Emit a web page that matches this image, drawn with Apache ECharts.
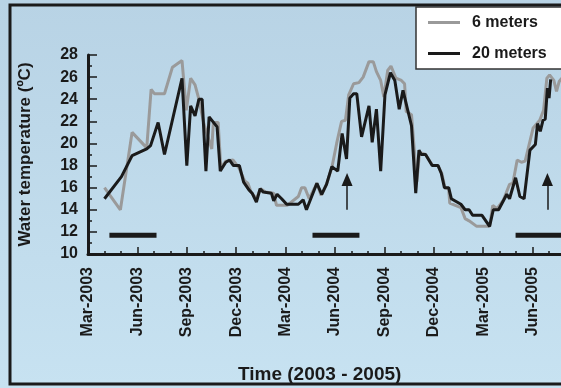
<!DOCTYPE html>
<html>
<head>
<meta charset="utf-8">
<script src="https://cdn.jsdelivr.net/npm/echarts@6/dist/echarts.min.js"></script>
<style>
html,body{margin:0;padding:0;overflow:hidden;background:#c0dbec;}
#chart{width:620px;height:388px;}
</style>
</head>
<body>
<div id="chart"></div>
<script>
// ---- data ----
const dates20 = ['2003-04-01','2003-05-02','2003-05-22','2003-06-18','2003-06-25','2003-07-09','2003-07-21','2003-08-23','2003-09-01','2003-09-08','2003-09-16','2003-09-23','2003-09-29','2003-10-06','2003-10-12','2003-10-27','2003-11-02','2003-11-12','2003-11-19','2003-11-26','2003-12-07','2003-12-15','2003-12-25','2003-12-31','2004-01-08','2004-01-15','2004-01-21','2004-02-05','2004-02-09','2004-02-15','2004-02-23','2004-03-03','2004-03-25','2004-04-03','2004-04-09','2004-04-28','2004-05-07','2004-05-16','2004-05-26','2004-06-06','2004-06-14','2004-06-22','2004-06-28','2004-07-05','2004-07-11','2004-07-20','2004-08-03','2004-08-09','2004-08-17','2004-08-25','2004-09-02','2004-09-12','2004-09-20','2004-09-28','2004-10-05','2004-10-21','2004-10-29','2004-11-04','2004-11-08','2004-11-16','2004-11-28','2004-12-09','2004-12-15','2004-12-21','2004-12-29','2005-01-03','2005-01-21','2005-01-29','2005-02-05','2005-02-11','2005-02-27','2005-03-13','2005-03-20','2005-03-30','2005-04-14','2005-04-19','2005-04-30','2005-05-08','2005-05-16','2005-05-27','2005-06-06','2005-06-10','2005-06-15','2005-06-20','2005-06-24','2005-06-28','2005-07-01','2005-07-04'];
const temp20 = [15.0,17.0,18.9,19.5,19.8,21.9,19.0,25.9,18.0,23.4,22.5,24.0,24.0,17.5,22.4,21.5,17.5,18.3,18.5,18.0,18.0,16.5,15.8,15.5,14.7,15.9,15.6,15.5,14.8,15.4,15.0,14.5,14.5,14.9,14.0,16.4,15.4,16.3,17.9,17.5,20.9,18.6,24.1,24.5,24.5,20.6,23.4,20.1,23.1,17.5,24.4,26.4,25.7,23.1,24.8,21.6,15.5,19.4,19.0,19.0,18.0,18.0,17.3,16.0,16.0,15.0,14.5,14.0,14.0,13.5,13.5,12.5,14.0,14.0,15.4,15.0,16.9,15.2,15.0,19.4,19.9,21.8,21.1,22.1,22.2,25.0,24.1,25.8];

const dates6 = ['2003-04-01','2003-04-30','2003-05-22','2003-06-18','2003-06-26','2003-07-02','2003-07-21','2003-08-05','2003-08-23','2003-08-31','2003-09-08','2003-09-16','2003-09-23','2003-10-02','2003-10-17','2003-10-20','2003-10-29','2003-11-03','2003-11-12','2003-11-25','2003-12-06','2003-12-17','2003-12-23','2003-12-29','2004-01-08','2004-01-16','2004-01-25','2004-02-09','2004-02-14','2004-03-04','2004-03-25','2004-03-31','2004-04-06','2004-04-14','2004-04-22','2004-04-28','2004-05-06','2004-05-16','2004-05-26','2004-06-04','2004-06-13','2004-06-20','2004-06-26','2004-07-05','2004-07-15','2004-07-23','2004-08-03','2004-08-11','2004-08-17','2004-08-25','2004-08-31','2004-09-07','2004-09-13','2004-09-22','2004-10-02','2004-10-08','2004-10-11','2004-10-21','2004-10-31','2004-11-05','2004-11-16','2004-11-29','2004-12-09','2004-12-16','2004-12-22','2004-12-29','2004-12-31','2005-01-21','2005-01-29','2005-02-05','2005-02-18','2005-03-13','2005-03-19','2005-03-27','2005-04-08','2005-04-19','2005-04-25','2005-05-03','2005-05-11','2005-05-18','2005-06-02','2005-06-14','2005-06-21','2005-06-27','2005-07-02','2005-07-10','2005-07-15','2005-07-20','2005-07-25'];
const temp6 = [16.0,14.0,21.0,19.6,24.9,24.5,24.5,26.9,27.5,23.0,25.9,25.3,24.0,21.8,19.5,21.9,21.9,17.8,18.4,18.5,17.8,16.6,16.4,15.6,15.0,15.9,15.6,15.5,14.4,14.4,15.2,16.0,16.0,15.0,15.8,16.4,15.3,16.3,17.8,20.0,22.0,22.1,24.4,25.4,25.5,26.0,27.4,27.4,26.5,25.7,24.2,26.6,27.0,25.9,25.7,25.4,22.9,22.6,16.5,19.2,19.0,18.0,18.0,17.3,16.0,15.9,14.6,14.2,13.2,13.0,12.5,12.5,14.4,14.1,14.9,16.3,16.4,18.5,18.3,18.4,21.4,22.1,23.0,25.9,26.2,25.7,24.7,25.6,25.9];

// horizontal period bars (start date, end date) at a fixed temperature level
const barStarts = ['2003-04-10','2004-04-20','2005-04-30'];
const barEnds   = ['2003-07-06','2004-07-16','2005-09-01'];
const barLevel = 11.7;

// arrows (date, from temperature, to temperature)
const arrowDates = ['2004-06-23','2005-06-28'];
const arrowFrom = 14.0;
const arrowTo = 16.75;

const seriesNames = ['6 meters','20 meters'];
const monthNames = ['Mar','Jun','Sep','Dec'];

// ---- helpers ----
function toMonthIndex(s){
  const [y,m,d] = s.split('-').map(Number);
  const dim = new Date(y, m, 0).getDate();
  return (y-2003)*12 + (m-3) + (d-1)/dim;
}
function pairs(ds, vs){ return ds.map((d,i)=>[toMonthIndex(d), vs[i]]); }

const FONT = '"Liberation Sans", Arial, Helvetica, sans-serif';
const INK = '#1a1a1a';
const GRAY = '#9a9a9a';

const chart = echarts.init(document.getElementById('chart'), null, {renderer:'canvas'});

const series = [
  {name: seriesNames[0], type:'line', data: pairs(dates6,temp6), symbol:'none', showSymbol:false,
   lineStyle:{color:GRAY, width:3}, itemStyle:{color:GRAY}, z:2},
  {name: seriesNames[1], type:'line', data: pairs(dates20,temp20), symbol:'none', showSymbol:false,
   lineStyle:{color:INK, width:3}, itemStyle:{color:INK}, z:3}
];
barStarts.forEach((s,i)=>{
  series.push({name:'period'+i, type:'line', symbol:'none', silent:true,
    data:[[toMonthIndex(s), barLevel],[toMonthIndex(barEnds[i]), barLevel]],
    lineStyle:{color:INK, width:5, cap:'butt'}, z:3});
});
series.push({name:'arrows', type:'line', data:[], silent:true,
  markLine:{silent:true, symbol:['none','triangle'], symbolSize:[11,13],
    label:{show:false},
    lineStyle:{color:INK, width:1.5, type:'solid'},
    data: arrowDates.map(d=>[{coord:[toMonthIndex(d), arrowFrom]},{coord:[toMonthIndex(d), arrowTo]}])
  }});

chart.setOption({
  animation:false,
  backgroundColor:{type:'linear', x:0, y:0, x2:0, y2:1,
    colorStops:[{offset:0,color:'#b8d3e5'},{offset:1,color:'#c7e2f1'}]},
  textStyle:{fontFamily:FONT},
  grid:{left:88, top:55, width:494, height:199, containLabel:false},
  legend:{
    data: seriesNames, orient:'vertical', left:416, top:7,
    icon:'rect',
    padding:[6,70,6,12], itemGap:12, itemWidth:32, itemHeight:3,
    backgroundColor:'#ffffff', borderColor:'#333333', borderWidth:1.5,
    textStyle:{fontFamily:FONT, fontWeight:'bold', fontSize:16, lineHeight:19, color:INK, padding:[0,0,0,7]}
  },
  title:{text:'Time (2003 - 2005)', left:238, top:365, padding:0,
    textStyle:{fontFamily:FONT, fontWeight:'bold', fontSize:19, color:INK}},
  xAxis:{
    type:'value', min:0, max:30, interval:3,
    axisLine:{lineStyle:{color:INK, width:3}},
    axisTick:{inside:true, length:7, lineStyle:{color:INK, width:1.5}},
    minorTick:{show:true, splitNumber:3, length:3, lineStyle:{color:INK, width:1.5}},
    splitLine:{show:false},
    axisLabel:{rotate:90, margin:13, fontFamily:FONT, fontWeight:'bold', fontSize:16, color:INK,
      formatter:(v)=>{ const q = Math.round(v/3); return monthNames[q%4] + '-' + (2003 + Math.floor((q*3+2)/12)); }}
  },
  yAxis:{
    type:'value', min:10, max:28, interval:2,
    name:'Water temperature (ºC)', nameLocation:'middle', nameGap:54, nameRotate:90,
    nameTextStyle:{fontFamily:FONT, fontWeight:'bold', fontSize:17, color:INK},
    axisLine:{show:true, lineStyle:{color:INK, width:3}},
    axisTick:{inside:true, length:9, lineStyle:{color:INK, width:1.5}},
    minorTick:{show:true, splitNumber:2, length:4, lineStyle:{color:INK, width:1.5}},
    splitLine:{show:false},
    axisLabel:{margin:10, fontFamily:FONT, fontWeight:'bold', fontSize:16, color:INK}
  },
  graphic:[
    {type:'rect', z:-1, silent:true, shape:{x:10, y:5, width:700, height:379},
     style:{fill:'none', stroke:INK, lineWidth:3}}
  ],
  series: series
});
</script>
</body>
</html>
